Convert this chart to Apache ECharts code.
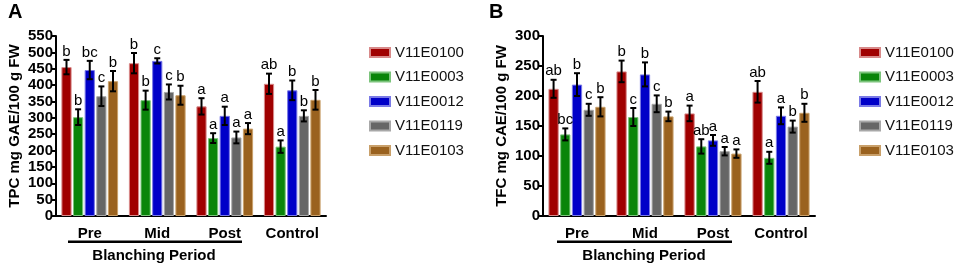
<!DOCTYPE html>
<html>
<head>
<meta charset="utf-8">
<script src="https://cdn.jsdelivr.net/npm/echarts@6/dist/echarts.min.js"></script>
<style>
    html, body { margin: 0; padding: 0; background: #fff; }
    #main { width: 957px; height: 267px; }
</style>
</head>
<body>
<div id="main"></div>
<script>
// periods on the x axis, one bar per variety in each
var categories = ['Pre', 'Mid', 'Post', 'Control'];
var varieties = ['V11E0100', 'V11E0003', 'V11E0012', 'V11E0119', 'V11E0103'];

// panel A: TPC (mg GAE/100 g FW), rows follow varieties, columns follow categories
var tpcMean = [
    [455, 467, 335, 404],
    [302, 354, 238, 212],
    [446, 474, 306, 384],
    [366, 379, 240, 306],
    [412, 369, 267, 355]
];
var tpcErr = [
    [22, 31, 25, 31],
    [24, 29, 15, 19],
    [28, 8, 28, 30],
    [30, 23, 18, 17],
    [31, 29, 17, 30]
];
var tpcLetters = [
    ['b', 'b', 'a', 'ab'],
    ['b', 'b', 'a', 'a'],
    ['bc', 'c', 'a', 'b'],
    ['c', 'c', 'a', 'b'],
    ['b', 'b', 'a', 'b']
];

// panel B: TFC (mg CAE/100 g FW)
var tfcMean = [
    [212, 241, 171, 207],
    [136, 165, 116, 97],
    [219, 236, 126, 167],
    [177, 187, 108, 149],
    [182, 166, 104, 172]
];
var tfcErr = [
    [15, 18, 13, 18],
    [10, 15, 12, 10],
    [19, 20, 9, 14],
    [10, 14, 7, 10],
    [16, 8, 7, 15]
];
var tfcLetters = [
    ['ab', 'b', 'a', 'ab'],
    ['bc', 'c', 'ab', 'a'],
    ['b', 'b', 'a', 'a'],
    ['c', 'c', 'a', 'b'],
    ['b', 'b', 'a', 'b']
];

var colors = ['#a00000', '#0a850a', '#0000c8', '#666666', '#9a621f'];
var borders = ['#d88a8a', '#7cc47c', '#7a7ae6', '#a8a8a8', '#c9a06a'];

var CAT_GAP = 0.16;
var BAR_GAP = 0.14;
var FONT = 'Liberation Sans, Arial, sans-serif';

var myChart = echarts.init(document.getElementById('main'));

function errorRows(means, errs, letters) {
    var rows = [];
    for (var v = 0; v < varieties.length; v++) {
        for (var c = 0; c < categories.length; c++) {
            rows.push([c, v, means[v][c], errs[v][c], letters[v][c]]);
        }
    }
    return rows;
}

function makeErrorSeries(idx, rows) {
    return {
        type: 'custom',
        xAxisIndex: idx,
        yAxisIndex: idx,
        z: 5,
        data: rows.map(function (r) { return [r[0], r[1], r[2], r[3]]; }),
        renderItem: function (params, api) {
            var cat = api.value(0), v = api.value(1);
            var mean = api.value(2), err = api.value(3);
            var base = api.coord([cat, 0]);
            var bw = api.size([1, 0])[0];
            var area = bw * (1 - CAT_GAP);
            var w = area / (5 + 4 * BAR_GAP);
            var x = base[0] - area / 2 + v * w * (1 + BAR_GAP) + w / 2;
            var yTop = api.coord([cat, mean + err])[1];
            var yBot = api.coord([cat, mean - err])[1];
            var st = { stroke: '#000', lineWidth: 2 };
            return {
                type: 'group',
                children: [
                    { type: 'line', shape: { x1: x, y1: yTop, x2: x, y2: yBot }, style: st },
                    { type: 'line', shape: { x1: x - 3, y1: yTop, x2: x + 3, y2: yTop }, style: st },
                    { type: 'line', shape: { x1: x - 3, y1: yBot, x2: x + 3, y2: yBot }, style: st },
                    {
                        type: 'text',
                        style: {
                            text: rows[params.dataIndex][4],
                            x: x, y: yTop - 1,
                            align: 'center', verticalAlign: 'bottom',
                            font: '15px ' + FONT, fill: '#000'
                        }
                    }
                ]
            };
        }
    };
}

function makeBars(idx, means) {
    return varieties.map(function (name, v) {
        return {
            name: name,
            type: 'bar',
            xAxisIndex: idx,
            yAxisIndex: idx,
            data: means[v],
            barCategoryGap: (CAT_GAP * 100) + '%',
            barGap: (BAR_GAP * 100) + '%',
            itemStyle: { color: colors[v], borderColor: borders[v], borderWidth: 1 }
        };
    });
}

var axisLine = { show: true, lineStyle: { color: '#000', width: 2 } };

function xAxis(idx) {
    return {
        type: 'category',
        gridIndex: idx,
        data: categories,
        axisLine: axisLine,
        axisTick: { show: false },
        axisLabel: { interval: 0, color: '#000', fontWeight: 'bold', fontSize: 15, fontFamily: FONT, margin: 10 }
    };
}

function yAxis(idx, name, max) {
    return {
        type: 'value',
        gridIndex: idx,
        min: 0, max: max, interval: 50,
        name: name,
        nameLocation: 'middle',
        nameGap: 34,
        nameTextStyle: { color: '#000', fontWeight: 'bold', fontSize: 15, fontFamily: FONT },
        axisLine: axisLine,
        axisTick: { show: true, length: 4, lineStyle: { color: '#000', width: 2 } },
        axisLabel: { color: '#000', fontWeight: 'bold', fontSize: 15, fontFamily: FONT, margin: 3 },
        splitLine: { show: false }
    };
}

function legend(left) {
    return {
        orient: 'vertical',
        left: left, top: 40,
        data: varieties,
        icon: 'rect',
        itemWidth: 20, itemHeight: 9, itemGap: 9.5,
        textStyle: { color: '#111', fontSize: 15, fontFamily: FONT }
    };
}

var option = {
    backgroundColor: '#fff',
    animation: false,
    grid: [
        { left: 56, top: 36, width: 270, height: 180 },
        { left: 543, top: 36, width: 272, height: 180 }
    ],
    xAxis: [xAxis(0), xAxis(1)],
    yAxis: [yAxis(0, 'TPC mg GAE/100 g FW', 550), yAxis(1, 'TFC mg CAE/100 g FW', 300)],
    legend: [legend(364), legend(854)],
    series: makeBars(0, tpcMean)
        .concat(makeBars(1, tfcMean))
        .concat([makeErrorSeries(0, errorRows(tpcMean, tpcErr, tpcLetters)),
                 makeErrorSeries(1, errorRows(tfcMean, tfcErr, tfcLetters))]),
    graphic: [
        { type: 'text', left: 8, top: 2, style: { text: 'A', font: 'bold 20px ' + FONT, fill: '#000' } },
        { type: 'text', left: 489, top: 2, style: { text: 'B', font: 'bold 20px ' + FONT, fill: '#000' } },
        { type: 'rect', shape: { x: 68, y: 240.5, width: 174, height: 2.5 }, style: { fill: '#000' } },
        { type: 'rect', shape: { x: 557, y: 240.5, width: 175, height: 2.5 }, style: { fill: '#000' } },
        { type: 'text', x: 154, y: 256, style: { text: 'Blanching Period', font: 'bold 15px ' + FONT, fill: '#000', align: 'center', verticalAlign: 'middle' } },
        { type: 'text', x: 644, y: 256, style: { text: 'Blanching Period', font: 'bold 15px ' + FONT, fill: '#000', align: 'center', verticalAlign: 'middle' } }
    ]
};
myChart.setOption(option);
</script>
</body>
</html>
